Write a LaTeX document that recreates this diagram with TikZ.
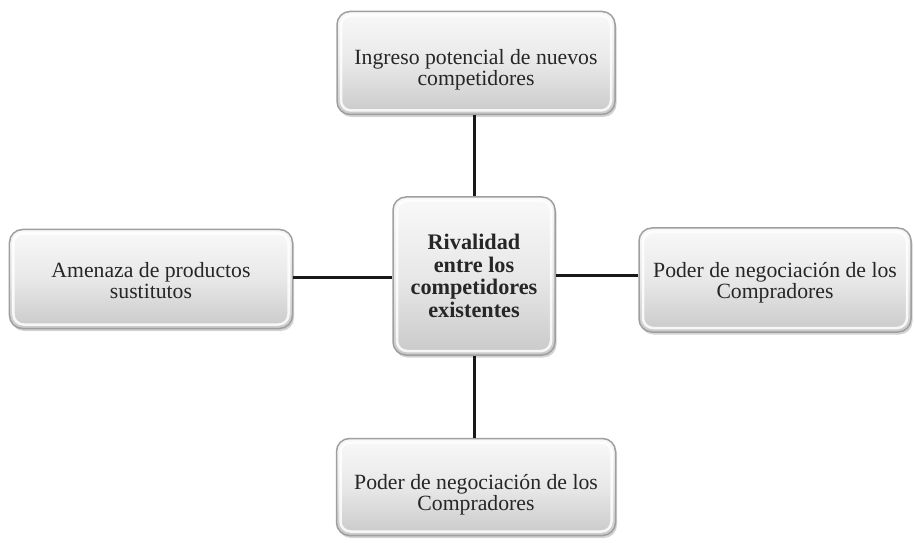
\documentclass[tikz,border=0pt]{standalone}
\usepackage{fontspec}
\setmainfont{Liberation Serif}
\usetikzlibrary{shadows}
\newcommand\pdn[1]{\rule{0pt}{#1}}
\begin{document}
\begin{tikzpicture}[x=1bp,y=-1bp,
  force/.style={draw=gray!75, line width=1.5bp, rounded corners=13bp,
    top color=gray!5, bottom color=gray!42, middle color=gray!18,
    drop shadow={shadow xshift=1.5bp, shadow yshift=-2.5bp, opacity=0.35},
    path picture={\draw[white, line width=2.5bp, rounded corners=10bp, opacity=0.85]
      ([shift={(4bp,-4bp)}]path picture bounding box.north west) rectangle
      ([shift={(-4bp,4bp)}]path picture bounding box.south east);},
    align=center, inner sep=0pt, text=black!85,
    font=\fontsize{21.8}{21}\selectfont},
  link/.style={line width=3bp, black!90}]
\useasboundingbox (0,0) rectangle (914,543);
\node[force, minimum width=278bp, minimum height=103bp] (top) at (476,63)
  {\pdn{29bp}Ingreso potencial de nuevos\\competidores};
\node[force, minimum width=162bp, minimum height=158bp,
  font=\fontsize{22.3}{22.5}\selectfont\bfseries] (center) at (474,276)
  {Rivalidad\\entre los\\competidores\\existentes};
\node[force, minimum width=283bp, minimum height=99bp] (left) at (151,279)
  {\pdn{19bp}Amenaza de productos\\sustitutos};
\node[force, minimum width=272bp, minimum height=104bp] (right) at (775,280)
  {\pdn{21bp}Poder de negociación de los\\Compradores};
\node[force, minimum width=279bp, minimum height=97bp] (bottom) at (476,487)
  {\pdn{30bp}Poder de negociación de los\\Compradores};
\draw[link] (center.north) -- (center.north |- top.south);
\draw[link] (center.south) -- (center.south |- bottom.north);
\draw[link] ([yshift=-2bp]center.west) -- ([yshift=-2bp]center.west -| left.east);
\draw[link] (center.east) -- (center.east -| right.west);
\end{tikzpicture}
\end{document}
